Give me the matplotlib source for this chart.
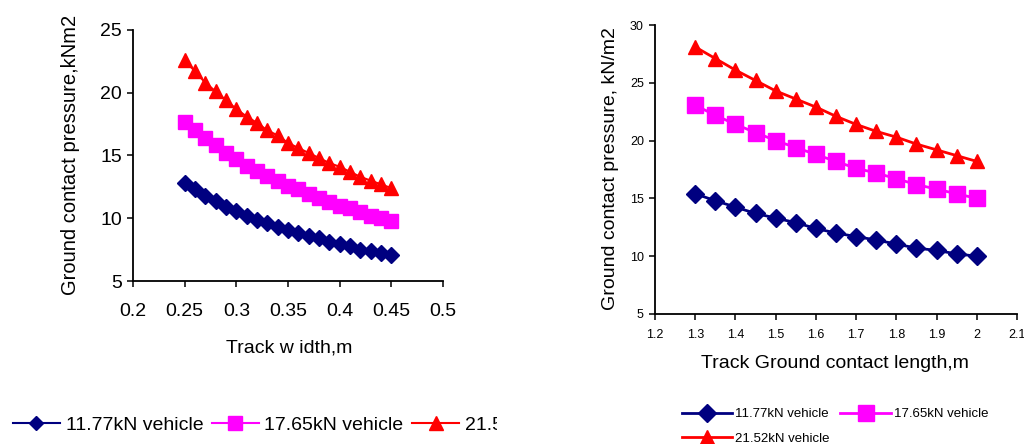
import matplotlib
matplotlib.use("Agg")
import matplotlib.pyplot as plt
from matplotlib.transforms import Bbox, TransformedBbox

plt.rcParams['font.family'] = ['Liberation Sans', 'DejaVu Sans']

# track width study
width_m = [0.25, 0.26, 0.27, 0.28, 0.29, 0.30, 0.31, 0.32, 0.33, 0.34, 0.35,
           0.36, 0.37, 0.38, 0.39, 0.40, 0.41, 0.42, 0.43, 0.44, 0.45]
w_light = [12.8, 12.3, 11.8, 11.4, 10.9, 10.6, 10.2, 9.9, 9.6, 9.3, 9.1,
           8.85, 8.6, 8.4, 8.1, 7.95, 7.8, 7.5, 7.4, 7.2, 7.05]
w_mid = [17.7, 17.0, 16.4, 15.8, 15.2, 14.7, 14.2, 13.8, 13.4, 13.0, 12.6,
         12.3, 11.9, 11.6, 11.3, 11.0, 10.8, 10.5, 10.2, 10.0, 9.8]
w_heavy = [22.6, 21.7, 20.8, 20.1, 19.4, 18.7, 18.1, 17.6, 17.0, 16.6, 16.0,
           15.6, 15.2, 14.8, 14.4, 14.1, 13.7, 13.3, 13.0, 12.7, 12.4]

# track ground contact length study
length_m = [1.3, 1.35, 1.4, 1.45, 1.5, 1.55, 1.6, 1.65, 1.7, 1.75, 1.8,
            1.85, 1.9, 1.95, 2.0]
l_light = [15.4, 14.8, 14.25, 13.7, 13.3, 12.9, 12.4, 12.0, 11.7, 11.4, 11.05,
           10.7, 10.5, 10.2, 10.0]
l_mid = [23.05, 22.2, 21.4, 20.7, 20.0, 19.4, 18.8, 18.2, 17.6, 17.2, 16.7,
         16.2, 15.8, 15.4, 15.0]
l_heavy = [28.1, 27.1, 26.1, 25.2, 24.3, 23.6, 22.9, 22.1, 21.4, 20.8, 20.3,
           19.7, 19.2, 18.7, 18.2]

labels = ['11.77kN vehicle', '17.65kN vehicle', '21.52kN vehicle']
colors = ['#000080', '#FF00FF', '#FF0000']
markers = ['D', 's', '^']

fig = plt.figure(figsize=(10.24, 4.44), dpi=100)
W, H = 1024, 444


def px_axes(x0, y0, x1, y1):
    return fig.add_axes([x0 / W, 1 - y1 / H, (x1 - x0) / W, (y1 - y0) / H])


def style(ax, fs):
    for s in ['top', 'right']:
        ax.spines[s].set_visible(False)
    for s in ['left', 'bottom']:
        ax.spines[s].set_linewidth(1.3)
    ax.tick_params(direction='out', length=4, width=1.1, labelsize=fs, pad=4)


# left panel
ax1 = px_axes(133, 30, 443, 281)
lines1 = []
for ys, c, m, ms, lb in zip([w_light, w_mid, w_heavy], colors, markers,
                            [8, 10, 10], labels):
    ln, = ax1.plot(width_m, ys, color=c, marker=m, markersize=ms, lw=1.5,
                   markeredgecolor=c, label=lb, clip_on=False)
    lines1.append(ln)
ax1.set_xlim(0.2, 0.5)
ax1.set_ylim(5, 25)
ax1.set_xticks([0.2, 0.25, 0.3, 0.35, 0.4, 0.45, 0.5])
ax1.set_xticklabels(['0.2', '0.25', '0.3', '0.35', '0.4', '0.45', '0.5'])
ax1.set_yticks([5, 10, 15, 20, 25])
style(ax1, 14)
ax1.tick_params(axis='x', pad=12)
ax1.set_xlabel('Track w idth,m', fontsize=14, va='center')
ax1.xaxis.set_label_coords(0.503, -0.267)
ax1.set_ylabel('Ground contact pressure,kNm2', fontsize=14.5, va='center')
ax1.yaxis.set_label_coords(-0.203, 0.502)

leg1 = fig.legend(handles=lines1, loc='center left', ncol=3,
                  bbox_to_anchor=(13 / W, 1 - 425 / H), frameon=False,
                  fontsize=14, handlelength=2.4, handletextpad=0.3,
                  columnspacing=0.45, borderpad=0, borderaxespad=0,
                  markerscale=0.95)
clip = TransformedBbox(Bbox([[0, 0], [497 / W, 1]]), fig.transFigure)
for a in leg1.findobj():
    if a is not leg1:
        a.set_clip_box(clip)
        a.set_clip_on(True)

# right panel
ax2 = px_axes(655, 25, 1017, 314)
lines2 = []
for ys, c, m, ms, lb in zip([l_light, l_mid, l_heavy], colors, markers,
                            [9, 11, 10], labels):
    ln, = ax2.plot(length_m, ys, color=c, marker=m, markersize=ms, lw=2,
                   markeredgecolor=c, label=lb, clip_on=False)
    lines2.append(ln)
ax2.set_xlim(1.2, 2.1)
ax2.set_ylim(5, 30)
ax2.set_xticks([1.2, 1.3, 1.4, 1.5, 1.6, 1.7, 1.8, 1.9, 2.0, 2.1])
ax2.set_xticklabels(['1.2', '1.3', '1.4', '1.5', '1.6', '1.7', '1.8', '1.9', '2', '2.1'])
ax2.set_yticks([5, 10, 15, 20, 25, 30])
style(ax2, 9)
ax2.tick_params(axis='x', pad=7)
ax2.set_xlabel('Track Ground contact length,m', fontsize=14, va='center')
ax2.xaxis.set_label_coords(0.497, -0.170)
ax2.set_ylabel('Ground contact pressure, kN/m2', fontsize=14, va='center')
ax2.yaxis.set_label_coords(-0.124, 0.502)

fig.legend(handles=[lines2[0], lines2[2], lines2[1]], loc='center left', ncol=2,
           bbox_to_anchor=(682 / W, 1 - 426.5 / H), frameon=False,
           fontsize=9.5, handlelength=3.8, handletextpad=0.25,
           columnspacing=0.8, labelspacing=0.95, borderpad=0, borderaxespad=0,
           markerscale=1.0)

fig.savefig('out.png', dpi=100)
